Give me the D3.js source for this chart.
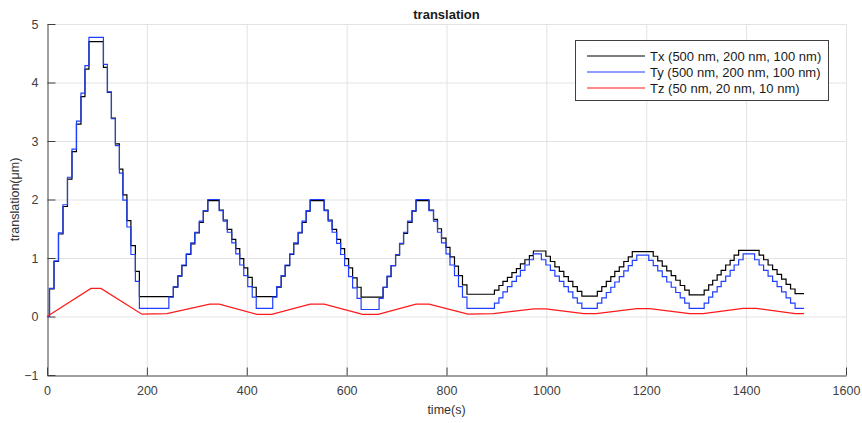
<!DOCTYPE html>
<meta charset="utf-8">
<script src="https://d3js.org/d3.v7.min.js"></script>
<style>
  body { margin: 0; background: #fff; }
  text { font-family: "Liberation Sans", Arial, sans-serif; }
</style>
<div id="my_dataviz"></div>
<script>

// times (s) where Tx / Ty change value (stage moves in steps)
var stepTimes = [
  0, 5, 14, 23, 32, 41, 50, 59, 68, 76, 84,
  113, 121, 129, 137, 145, 152, 160, 168, 177, 185,
  244, 253, 262, 270, 279, 288, 296, 305, 313, 322,
  345, 353, 361, 370, 378, 386, 394, 402, 411, 419,
  452, 460, 469, 477, 486, 494, 503, 511, 519, 527,
  555, 563, 571, 580, 588, 596, 604, 612, 621, 629,
  665, 673, 681, 689, 698, 706, 714, 722, 731, 739,
  765, 774, 782, 790, 799, 807, 816, 824, 832, 841,
  896, 905, 913, 922, 931, 940, 948, 957, 966, 974,
  990, 999, 1008, 1017, 1026, 1035, 1044, 1053, 1062, 1071,
  1102, 1111, 1120, 1129, 1137, 1146, 1155, 1164, 1172, 1181,
  1205, 1214, 1223, 1232, 1241, 1250, 1259, 1268, 1277, 1286,
  1316, 1325, 1333, 1342, 1350, 1359, 1368, 1376, 1385, 1394,
  1417, 1426, 1435, 1444, 1453, 1462, 1471, 1480, 1489, 1498,
  1516
];

var txValues = [
  0, 0.47, 0.94, 1.41, 1.88, 2.35, 2.82, 3.29, 3.76, 4.23, 4.70,
  4.26, 3.83, 3.39, 2.95, 2.52, 2.08, 1.64, 1.21, 0.77, 0.34,
  0.34, 0.50, 0.69, 0.87, 1.06, 1.24, 1.43, 1.61, 1.80, 1.98,
  1.82, 1.65, 1.49, 1.32, 1.16, 0.99, 0.83, 0.67, 0.50, 0.34,
  0.34, 0.50, 0.69, 0.87, 1.06, 1.24, 1.43, 1.61, 1.80, 1.98,
  1.82, 1.65, 1.49, 1.32, 1.16, 0.99, 0.83, 0.66, 0.50, 0.33,
  0.33, 0.50, 0.68, 0.87, 1.05, 1.24, 1.42, 1.61, 1.80, 1.98,
  1.82, 1.66, 1.50, 1.34, 1.18, 1.02, 0.86, 0.70, 0.54, 0.38,
  0.45, 0.53, 0.60, 0.67, 0.75, 0.82, 0.90, 0.97, 1.04, 1.12,
  1.12, 1.03, 0.94, 0.85, 0.77, 0.68, 0.60, 0.51, 0.43, 0.35,
  0.43, 0.51, 0.60, 0.68, 0.77, 0.85, 0.94, 1.02, 1.11, 1.11,
  1.11, 1.03, 0.95, 0.86, 0.78, 0.70, 0.62, 0.53, 0.45, 0.37,
  0.45, 0.54, 0.62, 0.71, 0.79, 0.88, 0.96, 1.05, 1.13, 1.13,
  1.13, 1.05, 0.97, 0.88, 0.80, 0.72, 0.64, 0.55, 0.47, 0.39,
  0.39
];

var tyValues = [
  0, 0.48, 0.95, 1.43, 1.91, 2.38, 2.86, 3.34, 3.82, 4.29, 4.77,
  4.31, 3.84, 3.38, 2.92, 2.45, 1.99, 1.53, 1.06, 0.60, 0.14,
  0.33, 0.51, 0.70, 0.88, 1.07, 1.26, 1.44, 1.63, 1.81, 2.00,
  1.81, 1.63, 1.44, 1.26, 1.07, 0.88, 0.70, 0.51, 0.33, 0.14,
  0.33, 0.51, 0.70, 0.88, 1.07, 1.26, 1.44, 1.63, 1.81, 2.00,
  1.81, 1.63, 1.44, 1.25, 1.06, 0.87, 0.68, 0.49, 0.31, 0.12,
  0.31, 0.50, 0.69, 0.87, 1.06, 1.25, 1.44, 1.63, 1.81, 2.00,
  1.81, 1.63, 1.44, 1.26, 1.07, 0.88, 0.70, 0.51, 0.33, 0.14,
  0.23, 0.32, 0.42, 0.51, 0.60, 0.69, 0.79, 0.88, 0.97, 1.07,
  0.97, 0.88, 0.79, 0.69, 0.60, 0.51, 0.42, 0.32, 0.23, 0.14,
  0.23, 0.32, 0.41, 0.50, 0.59, 0.68, 0.78, 0.87, 0.96, 1.05,
  0.96, 0.87, 0.78, 0.68, 0.59, 0.50, 0.41, 0.32, 0.23, 0.14,
  0.23, 0.33, 0.42, 0.51, 0.60, 0.69, 0.79, 0.88, 0.97, 1.07,
  0.97, 0.88, 0.79, 0.69, 0.60, 0.51, 0.42, 0.32, 0.23, 0.14,
  0.14
];

// Tz moves in small steps, looks like a smooth ramp
var tzTimes = [0, 88, 108, 190, 240, 326, 345, 421, 450, 527, 555, 632, 663,
  739, 765, 843, 894, 975, 999, 1075, 1100, 1181, 1207, 1287, 1314, 1394, 1420, 1498, 1516];
var tzValues = [0, 0.48, 0.48, 0.04, 0.05, 0.21, 0.21, 0.035, 0.035, 0.21, 0.21, 0.035, 0.035,
  0.21, 0.21, 0.04, 0.05, 0.13, 0.13, 0.05, 0.05, 0.135, 0.135, 0.05, 0.05, 0.14, 0.14, 0.05, 0.05];

var seriesNames = ["Tx (500 nm, 200 nm, 100 nm)", "Ty (500 nm, 200 nm, 100 nm)", "Tz (50 nm, 20 nm, 10 nm)"];
var seriesColors = ["#000000", "#1f3fff", "#ff1a1a"];

var xTicks = [0, 200, 400, 600, 800, 1000, 1200, 1400, 1600];
var yTicks = [-1, 0, 1, 2, 3, 4, 5];

var width = 862,
    height = 423;

var svg = d3.select("#my_dataviz")
  .append("svg")
    .attr("width", width)
    .attr("height", height);

var x = d3.scaleLinear().domain([0, 1600]).range([47, 846]);
var y = d3.scaleLinear().domain([-1, 5]).range([375, 24]);

// grid
svg.append("g")
  .selectAll("line")
  .data(xTicks.slice(1))
  .enter().append("line")
    .attr("x1", function(d){ return x(d) + 0.5 })
    .attr("x2", function(d){ return x(d) + 0.5 })
    .attr("y1", y(5))
    .attr("y2", y(-1))
    .attr("stroke", "#e3e3e3");

svg.append("g")
  .selectAll("line")
  .data(yTicks.slice(1))
  .enter().append("line")
    .attr("x1", x(0))
    .attr("x2", x(1600))
    .attr("y1", function(d){ return y(d) + 0.5 })
    .attr("y2", function(d){ return y(d) + 0.5 })
    .attr("stroke", "#e3e3e3");

// axes
var xAxis = svg.append("g")
  .attr("transform", "translate(0," + (y(-1) + 0.5) + ")")
  .call(d3.axisBottom(x).tickValues(xTicks).tickFormat(d3.format("d"))
    .tickSize(-8).tickSizeOuter(0).tickPadding(11));

var yAxis = svg.append("g")
  .attr("transform", "translate(" + (x(0) + 0.5) + ",0)")
  .call(d3.axisLeft(y).tickValues(yTicks).tickFormat(d3.format("d"))
    .tickSize(-8).tickSizeOuter(0).tickPadding(9));

[xAxis, yAxis].forEach(function(a) {
  a.selectAll("path, line").attr("stroke", "#404040");
  a.selectAll("text").attr("fill", "#404040").style("font-size", "12.5px")
    .style("font-family", "'Liberation Sans', Arial, sans-serif");
});

// series
var stepLine = d3.line()
  .x(function(d){ return x(d[0]) })
  .y(function(d){ return y(d[1]) })
  .curve(d3.curveStepAfter);

var plainLine = d3.line()
  .x(function(d){ return x(d[0]) })
  .y(function(d){ return y(d[1]) });

var txData = stepTimes.map(function(t, i){ return [t, txValues[i]] });
var tyData = stepTimes.map(function(t, i){ return [t, tyValues[i]] });
var tzData = tzTimes.map(function(t, i){ return [t, tzValues[i]] });

svg.append("path")
  .attr("d", stepLine(txData))
  .attr("fill", "none")
  .attr("stroke", seriesColors[0])
  .attr("stroke-width", 1.2);

svg.append("path")
  .attr("d", stepLine(tyData))
  .attr("fill", "none")
  .attr("stroke", seriesColors[1])
  .attr("stroke-width", 1.2);

svg.append("path")
  .attr("d", plainLine(tzData))
  .attr("fill", "none")
  .attr("stroke", seriesColors[2])
  .attr("stroke-width", 1.2);

// title and labels
svg.append("text")
  .attr("x", (x(0) + x(1600)) / 2)
  .attr("y", 19)
  .attr("text-anchor", "middle")
  .style("font-size", "13px")
  .style("font-weight", "bold")
  .attr("fill", "#1a1a1a")
  .text("translation");

svg.append("text")
  .attr("x", (x(0) + x(1600)) / 2)
  .attr("y", 414)
  .attr("text-anchor", "middle")
  .style("font-size", "12.5px")
  .attr("fill", "#333")
  .text("time(s)");

svg.append("text")
  .attr("transform", "rotate(-90)")
  .attr("x", -(y(-1) + y(5)) / 2)
  .attr("y", 19)
  .attr("text-anchor", "middle")
  .style("font-size", "12.5px")
  .attr("fill", "#333")
  .text("translation(μm)");

// legend
var legend = svg.append("g");
legend.append("rect")
  .attr("x", 575.5)
  .attr("y", 40.5)
  .attr("width", 253)
  .attr("height", 60)
  .attr("fill", "#fff")
  .attr("stroke", "#404040");

legend.selectAll("line.key")
  .data(seriesNames)
  .enter().append("line")
    .attr("x1", 587)
    .attr("x2", 645)
    .attr("y1", function(d, i){ return 56 + i * 16 })
    .attr("y2", function(d, i){ return 56 + i * 16 })
    .attr("stroke", function(d, i){ return seriesColors[i] })
    .attr("stroke-width", 1.2);

legend.selectAll("text.key")
  .data(seriesNames)
  .enter().append("text")
    .attr("x", 650)
    .attr("y", function(d, i){ return 60.5 + i * 16 })
    .style("font-size", "13px")
    .attr("fill", "#1a1a1a")
    .text(function(d){ return d });

</script>
